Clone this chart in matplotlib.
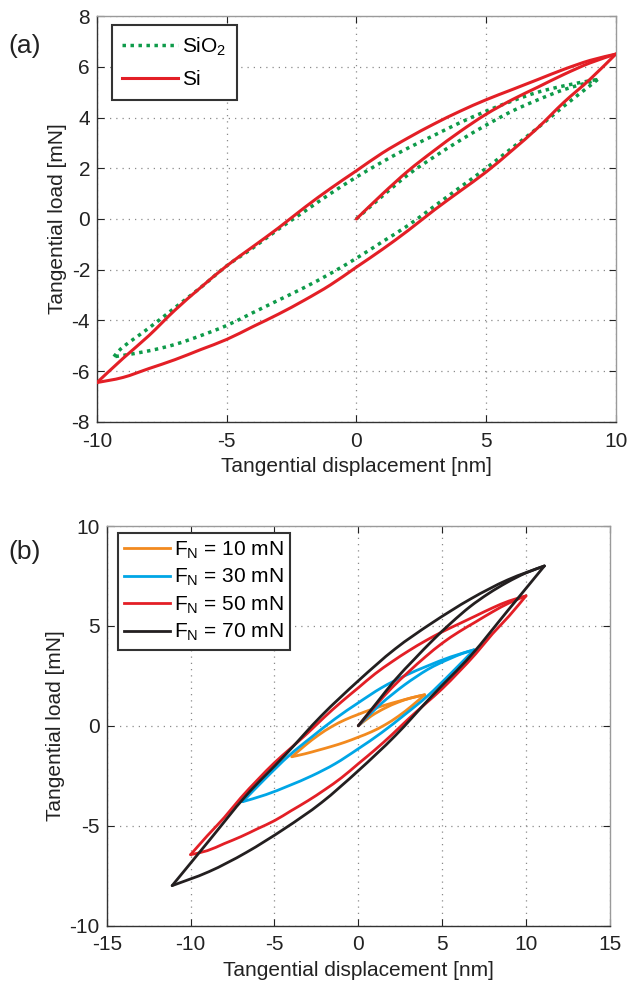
import matplotlib
matplotlib.use('Agg')
import matplotlib.pyplot as plt
from matplotlib.path import Path
from matplotlib.patches import PathPatch
from matplotlib.lines import Line2D
import numpy as np

plt.rcParams['font.family'] = ['Liberation Sans', 'DejaVu Sans']
plt.rcParams['mathtext.fontset'] = 'custom'
plt.rcParams['mathtext.rm'] = 'Liberation Sans'
plt.rcParams['mathtext.it'] = 'Liberation Sans:italic'
plt.rcParams['axes.unicode_minus'] = False

# ---------------- Panel (a) data ----------------
si_init_x = [0, 1, 2, 3, 4, 5, 6, 7, 8, 9, 10]
si_init_y = [0, 0.98, 1.9, 2.7, 3.45, 4.13, 4.7, 5.2, 5.7, 6.15, 6.5]
si_low_x = [10, 9, 8, 7, 6, 5, 4, 3, 2, 1, 0, -1, -2, -3, -4, -5, -6, -7, -8, -9, -10]
si_low_y = [6.5, 5.5, 4.6, 3.6, 2.7, 1.85, 1.1, 0.35, -0.45, -1.2, -1.9, -2.6, -3.2,
            -3.75, -4.25, -4.75, -5.15, -5.55, -5.9, -6.25, -6.45]
si_up_x = [-10, -9, -8, -7, -6, -5, -4, -3, -2, -1, 0, 1, 2, 3, 4, 5, 6, 7, 8, 9, 10]
si_up_y = [-6.45, -5.5, -4.6, -3.6, -2.7, -1.85, -1.1, -0.35, 0.45, 1.2, 1.9, 2.6, 3.2,
           3.75, 4.25, 4.7, 5.1, 5.5, 5.9, 6.25, 6.5]

sio2_init_x = [0, 1, 2, 3, 4, 5, 6, 7, 8, 9, 9.3]
sio2_init_y = [0, 0.9, 1.75, 2.45, 3.1, 3.7, 4.25, 4.7, 5.1, 5.4, 5.5]
sio2_low_x = [9.3, 9, 8, 7, 6, 5, 4, 3, 2, 1, 0, -1, -2, -3, -4, -5, -6, -7, -8, -9, -9.35]
sio2_low_y = [5.5, 5.25, 4.45, 3.6, 2.8, 2.0, 1.25, 0.5, -0.25, -0.9, -1.55, -2.15, -2.7,
              -3.2, -3.7, -4.2, -4.6, -4.95, -5.2, -5.38, -5.43]
sio2_up_x = [-9.35, -9, -8, -7, -6, -5, -4, -3, -2, -1, 0, 1, 2, 3, 4, 5, 6, 7, 8, 9, 9.3]
sio2_up_y = [-5.43, -5.05, -4.3, -3.5, -2.7, -1.85, -1.15, -0.4, 0.3, 1.0, 1.65, 2.25, 2.8,
             3.3, 3.8, 4.25, 4.65, 5.0, 5.25, 5.45, 5.5]

# ---------------- Panel (b) data ----------------
org_init_x = [0, 0.79, 1.58, 2.38, 3.17, 3.96]
org_init_y = [0, 0.5, 0.88, 1.18, 1.4, 1.55]
org_low_x = [3.96, 3.17, 2.38, 1.58, 0.79, 0, -0.79, -1.58, -2.38, -3.17, -3.96]
org_low_y = [1.55, 0.98, 0.47, 0.04, -0.3, -0.57, -0.82, -1.03, -1.22, -1.4, -1.55]
org_up_x = [-3.96, -3.17, -2.38, -1.58, -0.79, 0, 0.79, 1.58, 2.38, 3.17, 3.96]
org_up_y = [-1.55, -0.98, -0.47, -0.04, 0.3, 0.57, 0.82, 1.03, 1.22, 1.4, 1.55]

blu_init_x = [0, 0.69, 1.38, 2.07, 2.76, 3.45, 4.14, 4.83, 5.52, 6.21, 6.9]
blu_init_y = [0, 0.57, 1.12, 1.6, 2.05, 2.45, 2.82, 3.12, 3.38, 3.62, 3.8]
blu_low_x = [6.9, 5.52, 4.14, 2.76, 1.38, 0, -1.38, -2.76, -4.14, -5.52, -6.9]
blu_low_y = [3.8, 2.62, 1.5, 0.55, -0.35, -1.15, -1.9, -2.5, -3.0, -3.45, -3.8]
blu_up_x = [-6.9, -5.52, -4.14, -2.76, -1.38, 0, 1.38, 2.76, 4.14, 5.52, 6.9]
blu_up_y = [-3.8, -2.62, -1.5, -0.55, 0.35, 1.15, 1.9, 2.5, 3.0, 3.45, 3.8]

blk_init_x = [0, 1.11, 2.22, 3.33, 4.44, 5.55, 6.66, 7.77, 8.88, 9.99, 11.1]
blk_init_y = [0, 1.16, 2.32, 3.32, 4.28, 5.16, 5.96, 6.62, 7.18, 7.65, 8.0]
blk_low_x = [11.1, 8.9, 6.7, 4.4, 2.2, 0, -2.2, -4.4, -6.7, -8.9, -11.1]
blk_low_y = [8.0, 5.75, 3.5, 1.5, -0.5, -2.25, -3.85, -5.15, -6.35, -7.3, -8.0]
blk_up_x = [-11.1, -8.9, -6.7, -4.4, -2.2, 0, 2.2, 4.4, 6.7, 8.9, 11.1]
blk_up_y = [-8.0, -5.75, -3.5, -1.5, 0.5, 2.25, 3.85, 5.15, 6.35, 7.3, 8.0]

labels_a = ['SiO$_\\mathregular{2}$', 'Si']
labels_b = ['F$_\\mathregular{N}$ = 10 mN', 'F$_\\mathregular{N}$ = 30 mN',
            'F$_\\mathregular{N}$ = 50 mN', 'F$_\\mathregular{N}$ = 70 mN']

C_GREEN = '#0e9b4a'
C_RED = '#e31f26'
C_ORANGE = '#f28a1f'
C_BLUE = '#00a6e6'
C_BLACK = '#231f20'

FS = 15


def smooth_path(x, y):
    """Smooth Bezier path through the data points (Catmull-Rom)."""
    pts = np.column_stack([np.asarray(x, float), np.asarray(y, float)])
    verts = [pts[0]]
    codes = [Path.MOVETO]
    n = len(pts)
    for i in range(n - 1):
        p0 = pts[i - 1] if i > 0 else pts[i]
        p1 = pts[i]
        p2 = pts[i + 1]
        p3 = pts[i + 2] if i + 2 < n else pts[i + 1]
        verts += [p1 + (p2 - p0) / 6.0, p2 - (p3 - p1) / 6.0, p2]
        codes += [Path.CURVE4] * 3
    return Path(verts, codes)


def draw_loop(ax, branches, color, lw, ls='-', z=2, cap='round'):
    for bx, by in branches:
        ax.add_patch(PathPatch(smooth_path(bx, by), fill=False, edgecolor=color,
                               linewidth=lw, linestyle=ls, capstyle=cap,
                               joinstyle='round', zorder=z))


def style(ax, xt, yt):
    ax.set_xticks(xt)
    ax.set_yticks(yt)
    ax.set_xlim(xt[0], xt[-1])
    ax.set_ylim(yt[0], yt[-1])
    ax.grid(True, linestyle=(0, (1, 4)), color='#8a8a8a', linewidth=0.9)
    ax.set_axisbelow(True)
    ax.tick_params(direction='in', top=True, right=True, length=5, width=0.8,
                   labelsize=FS, colors='#222222', pad=5)
    ax.tick_params(axis='x', pad=7)
    for s in ['left', 'bottom']:
        ax.spines[s].set_color('#333333')
        ax.spines[s].set_linewidth(1.0)
    for s in ['top', 'right']:
        ax.spines[s].set_color('#9a9a9a')
        ax.spines[s].set_linewidth(1.0)
    ax.set_xlabel('Tangential displacement [nm]', fontsize=FS, labelpad=5, color='#222222')
    ax.set_ylabel('Tangential load [mN]', fontsize=FS, labelpad=3, color='#222222')


fig = plt.figure(figsize=(6.28, 9.81), dpi=100)
axa = fig.add_axes([0.1545, 0.570, 0.826, 0.4136])
axb = fig.add_axes([0.170, 0.0565, 0.801, 0.4073])

# Panel (a)
GREEN_LS = (0, (1.0, 1.3))
draw_loop(axa, [(sio2_init_x, sio2_init_y), (sio2_low_x, sio2_low_y), (sio2_up_x, sio2_up_y)],
          C_GREEN, 2.5, GREEN_LS, z=2, cap='butt')
draw_loop(axa, [(si_init_x, si_init_y), (si_low_x, si_low_y), (si_up_x, si_up_y)],
          C_RED, 2.2, '-', z=3)
style(axa, [-10, -5, 0, 5, 10], [-8, -6, -4, -2, 0, 2, 4, 6, 8])
handles_a = [Line2D([], [], color=C_GREEN, linewidth=2.5, linestyle=GREEN_LS,
                    dash_capstyle='butt'),
             Line2D([], [], color=C_RED, linewidth=2.2)]
leg = axa.legend(handles_a, labels_a, loc='upper left', bbox_to_anchor=(0.028, 0.978),
                 fontsize=FS, handlelength=2.7, handletextpad=0.2, labelspacing=0.6,
                 borderpad=0.5, fancybox=False, framealpha=1, borderaxespad=0)
leg.get_frame().set_edgecolor('#333333')
leg.get_frame().set_linewidth(1.5)

# Panel (b)
series_b = [
    (org_init_x, org_init_y, org_low_x, org_low_y, org_up_x, org_up_y, C_ORANGE),
    (blu_init_x, blu_init_y, blu_low_x, blu_low_y, blu_up_x, blu_up_y, C_BLUE),
    (si_init_x, si_init_y, si_low_x, si_low_y, si_up_x, si_up_y, C_RED),
    (blk_init_x, blk_init_y, blk_low_x, blk_low_y, blk_up_x, blk_up_y, C_BLACK),
]
handles_b = []
for k, (ix, iy, lx, ly, ux, uy, c) in enumerate(series_b):
    draw_loop(axb, [(ix, iy), (lx, ly), (ux, uy)], c, 2.0, '-', z=2 + k)
    handles_b.append(Line2D([], [], color=c, linewidth=2.0))
style(axb, [-15, -10, -5, 0, 5, 10, 15], [-10, -5, 0, 5, 10])
legb = axb.legend(handles_b, labels_b, loc='upper left', bbox_to_anchor=(0.022, 0.982),
                  fontsize=FS, handlelength=2.2, handletextpad=0.2, labelspacing=0.3,
                  borderpad=0.3, fancybox=False, framealpha=1, borderaxespad=0)
legb.get_frame().set_edgecolor('#333333')
legb.get_frame().set_linewidth(1.5)

fig.text(0.013, 0.953, '(a)', fontsize=19, color='#222222', va='center', ha='left')
fig.text(0.013, 0.437, '(b)', fontsize=19, color='#222222', va='center', ha='left')

fig.savefig('out.png', dpi=100)
